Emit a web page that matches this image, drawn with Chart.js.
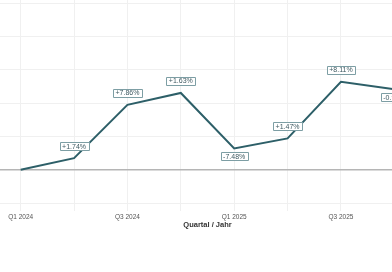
<!DOCTYPE html>
<html>
<head>
<meta charset="utf-8">
<script src="https://cdn.jsdelivr.net/npm/chart.js@4.4.1/dist/chart.umd.min.js"></script>
<style>
  html, body { margin: 0; padding: 0; background: #ffffff; overflow: hidden; width: 392px; height: 272px; }
  #wrap { position: absolute; left: -46px; top: -30px; width: 467px; height: 259px; }
</style>
</head>
<body>
<div id="wrap"><canvas id="c" width="467" height="259"></canvas></div>
<script>
const categories = ['Q1 2024', 'Q2 2024', 'Q3 2024', 'Q4 2024', 'Q1 2025', 'Q2 2025', 'Q3 2025', 'Q4 2025'];
const cumulativeChange = [0, 1.74, 9.74, 11.53, 3.19, 4.71, 13.2, 12.1];
const quarterChangeLabels = ['', '+1.74%', '+7.86%', '+1.63%', '-7.48%', '+1.47%', '+8.11%', '-0.97%'];
const yTicks = { min: -5, max: 30, step: 5 };

const FONT = 'Liberation Sans, Arial, Helvetica, sans-serif';

const labelPlugin = {
  id: 'changeLabels',
  afterDatasetsDraw(chart) {
    const meta = chart.getDatasetMeta(0);
    const ctx = chart.ctx;
    ctx.save();
    ctx.font = '7px ' + FONT;
    ctx.textAlign = 'center';
    ctx.textBaseline = 'middle';
    meta.data.forEach((pt, i) => {
      const txt = quarterChangeLabels[i];
      if (!txt) return;
      const neg = txt.startsWith('-');
      const cy = neg ? pt.y + 8 : pt.y - 12;
      const w = ctx.measureText(txt).width + 5;
      const h = 8;
      ctx.fillStyle = '#ffffff';
      ctx.strokeStyle = '#7d9ea4';
      ctx.lineWidth = 1;
      ctx.beginPath();
      ctx.rect(Math.round(pt.x - w / 2) + 0.5, Math.round(cy - h / 2) + 0.5, Math.round(w), h);
      ctx.fill();
      ctx.stroke();
      ctx.fillStyle = '#3f5a62';
      ctx.fillText(txt, pt.x, cy + 0.5);
    });
    ctx.restore();
  }
};

new Chart(document.getElementById('c'), {
  type: 'line',
  data: {
    labels: categories,
    datasets: [{
      data: cumulativeChange,
      borderColor: '#2d5f68',
      borderWidth: 2,
      pointRadius: 0,
      tension: 0,
      fill: false
    }]
  },
  options: {
    responsive: false,
    animation: false,
    layout: { padding: 0 },
    plugins: { legend: { display: false }, tooltip: { enabled: false } },
    scales: {
      x: {
        offset: true,
        afterFit(scale) { scale.height = 26; scale.paddingLeft = 0; scale.paddingRight = 0; },
        grid: { color: '#f0f0f0', offset: false, tickLength: 8 },
        border: { display: false },
        ticks: {
          autoSkip: false, maxRotation: 0, padding: 2,
          color: '#555', font: { size: 6.5, family: FONT },
          callback: (v, i) => (i % 2 === 0 ? categories[i] : '')
        },
        title: {
          display: true, text: 'Quartal / Jahr', color: '#333',
          font: { size: 7.5, weight: 'bold', family: FONT },
          padding: { top: 0, bottom: 0 }
        }
      },
      y: {
        min: yTicks.min, max: yTicks.max,
        afterFit(scale) { scale.width = 40; scale.paddingTop = 0; scale.paddingBottom = 0; },
        grid: {
          color: (c) => (c.tick && c.tick.value === 0 ? '#b5b5b5' : '#f0f0f0'),
          lineWidth: (c) => (c.tick && c.tick.value === 0 ? 1.5 : 1),
          tickLength: 8
        },
        border: { display: false },
        ticks: {
          stepSize: yTicks.step,
          color: '#555', font: { size: 6.5, family: FONT },
          callback: (v) => v + '%'
        }
      }
    }
  },
  plugins: [labelPlugin]
});
</script>
</body>
</html>
